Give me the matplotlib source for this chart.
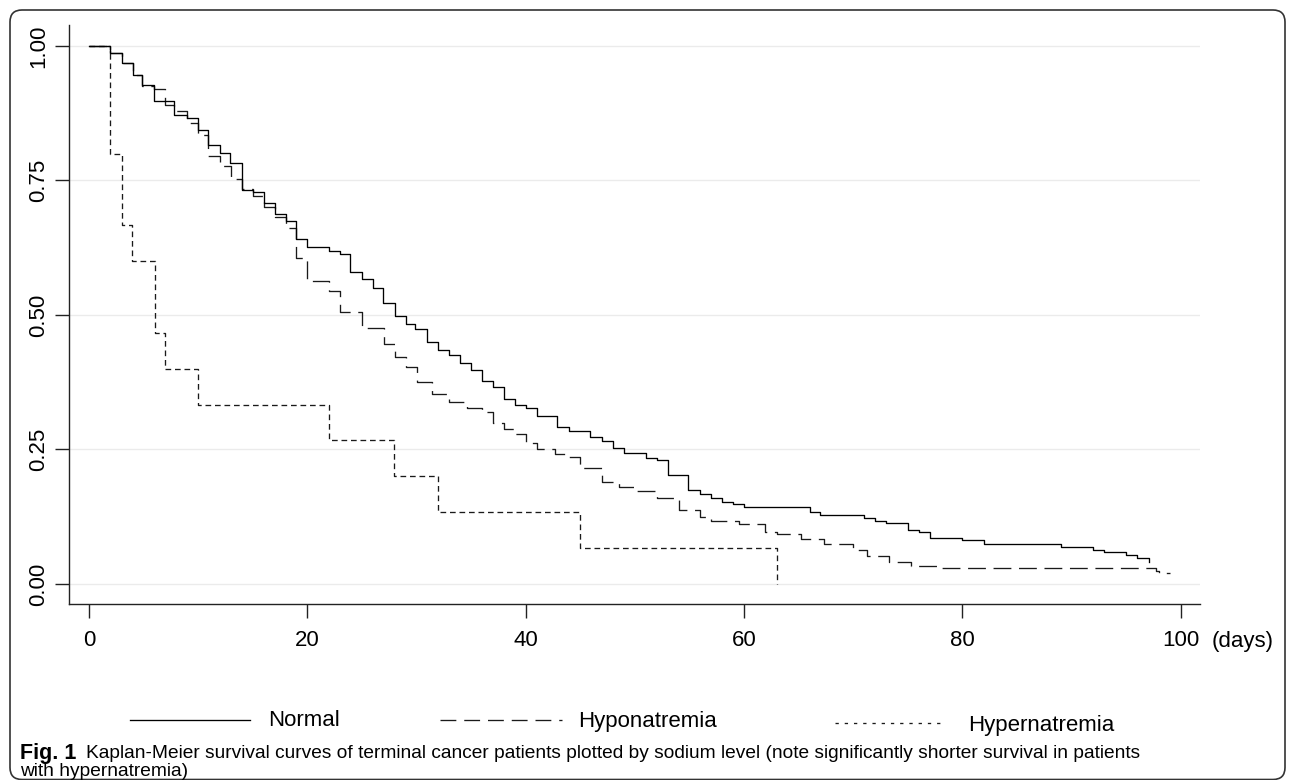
import matplotlib
matplotlib.use("Agg")
import matplotlib.pyplot as plt
from matplotlib.lines import Line2D
from matplotlib.patches import FancyBboxPatch
from matplotlib.transforms import IdentityTransform

plt.rcParams['font.family'] = ['Liberation Sans', 'DejaVu Sans']

# Kaplan-Meier step data (days, survival)
t_normal = [0, 1.9, 3.0, 4.0, 4.9, 6.0, 7.8, 9.0, 10.0, 10.9, 12.0, 12.9, 14.0, 15.0,
            16.0, 17.0, 18.0, 19.0, 20.0, 22.0, 23.0, 23.9, 25.0, 26.0, 26.9, 28.0,
            29.0, 29.9, 31.0, 32.0, 33.0, 34.0, 35.0, 36.0, 37.0, 38.0, 39.0, 40.0,
            41.0, 42.9, 44.0, 45.9, 47.0, 48.0, 49.0, 51.0, 52.0, 53.0, 54.9, 56.0,
            57.0, 58.0, 59.0, 60.0, 66.0, 67.0, 71.0, 72.0, 73.0, 75.0, 76.0, 77.0,
            80.0, 82.0, 89.0, 92.0, 93.0, 95.0, 96.0, 97.1]
s_normal = [1.0, 0.987, 0.969, 0.946, 0.928, 0.898, 0.872, 0.867, 0.844, 0.816, 0.802,
            0.783, 0.732, 0.728, 0.708, 0.688, 0.675, 0.642, 0.627, 0.619, 0.613, 0.580,
            0.567, 0.551, 0.522, 0.499, 0.483, 0.474, 0.450, 0.435, 0.426, 0.410, 0.398,
            0.378, 0.367, 0.343, 0.333, 0.328, 0.313, 0.292, 0.284, 0.274, 0.266, 0.252,
            0.243, 0.234, 0.230, 0.203, 0.175, 0.167, 0.159, 0.153, 0.149, 0.144, 0.133,
            0.129, 0.122, 0.118, 0.113, 0.100, 0.096, 0.085, 0.081, 0.074, 0.069, 0.063,
            0.059, 0.053, 0.048, 0.041]

t_hypo = [0, 1.9, 3.0, 4.0, 4.9, 6.0, 7.0, 7.8, 9.0, 10.0, 10.9, 12.0, 13.0, 14.0,
          15.0, 16.0, 17.0, 18.0, 19.0, 20.0, 22.0, 23.0, 25.0, 27.0, 28.0, 29.0, 30.0,
          31.4, 33.0, 34.6, 36.0, 37.0, 38.0, 39.0, 40.0, 41.0, 42.7, 43.9, 45.0, 47.0,
          48.5, 50.0, 52.0, 54.0, 56.0, 57.0, 59.5, 61.9, 63.0, 65.2, 67.3, 70.0, 71.3,
          73.3, 75.3, 77.7, 97.7, 98.0, 99.0]
s_hypo = [1.0, 0.987, 0.969, 0.946, 0.926, 0.920, 0.890, 0.880, 0.857, 0.835, 0.795,
          0.777, 0.752, 0.735, 0.722, 0.700, 0.683, 0.661, 0.605, 0.564, 0.545, 0.506,
          0.475, 0.446, 0.421, 0.403, 0.376, 0.354, 0.339, 0.327, 0.320, 0.300, 0.288,
          0.279, 0.262, 0.251, 0.242, 0.236, 0.215, 0.190, 0.180, 0.172, 0.159, 0.138,
          0.125, 0.118, 0.111, 0.096, 0.092, 0.083, 0.074, 0.063, 0.052, 0.040, 0.033,
          0.029, 0.025, 0.020, 0.020]

t_hyper = [0, 1.9, 3.0, 3.94, 6.05, 6.97, 9.96, 22.0, 27.96, 32.0, 45.0, 63.06]
s_hyper = [1.0, 0.80, 0.667, 0.60, 0.467, 0.40, 0.333, 0.267, 0.20, 0.133, 0.067, 0.0]

xticks = [0, 20, 40, 60, 80, 100]
yticks = [0, 0.25, 0.5, 0.75, 1.0]
ytick_labels = ['0.00', '0.25', '0.50', '0.75', '1.00']
groups = ['Normal', 'Hyponatremia', 'Hypernatremia']

W, H = 1295, 780
fig = plt.figure(figsize=(W / 100, H / 100), dpi=100)
ax = fig.add_axes([69 / W, 1 - 604 / H, (1200 - 69) / W, (604 - 25) / H])

solid = dict(color='black', lw=0.95)
dash_long = dict(color='#1a1a1a', lw=0.95, dashes=(13.5, 5.8))
dash_short = dict(color='#1a1a1a', lw=0.95, dashes=(4.3, 2.9))

ax.step(t_hyper, s_hyper, where='post', **dash_short)
ax.step(t_hypo, s_hypo, where='post', **dash_long)
ax.step(t_normal, s_normal, where='post', **solid)

ax.set_xlim(-1.83, 101.76)
ax.set_ylim(-0.0372, 1.039)
ax.set_xticks(xticks)
ax.set_yticks(yticks)
ax.set_yticklabels(ytick_labels, rotation=90, va='center')
ax.tick_params(axis='both', labelsize=16, length=10, width=1.0, color='#222222')
ax.tick_params(axis='x', pad=9)
ax.tick_params(axis='y', pad=4)
ax.yaxis.grid(True, color='#ebebeb', lw=1.0)
ax.set_axisbelow(True)
for side in ['top', 'right']:
    ax.spines[side].set_visible(False)
for side in ['left', 'bottom']:
    ax.spines[side].set_linewidth(1.0)
    ax.spines[side].set_color('#222222')

fig.text(1243 / W, 1 - 641 / H, '(days)', ha='center', va='center', fontsize=16)

# legend drawn by hand below the plot
def fx(px):
    return px / W

def fy(py):
    return 1 - py / H

fig.add_artist(Line2D([fx(130), fx(250)], [fy(720), fy(720)], **solid))
fig.text(fx(268), fy(721), groups[0], ha='left', va='center', fontsize=16)
fig.add_artist(Line2D([fx(440), fx(562)], [fy(720), fy(720)], color='#1a1a1a', lw=0.95, dashes=(12, 6)))
fig.text(fx(578), fy(721), groups[1], ha='left', va='center', fontsize=16)
fig.add_artist(Line2D([fx(835), fx(945)], [fy(723), fy(723)], color='#1a1a1a', lw=0.95, dashes=(2.5, 4.5)))
fig.text(fx(968), fy(725), groups[2], ha='left', va='center', fontsize=16)

# caption
fig.text(fx(20), fy(753), 'Fig. 1', ha='left', va='center', fontsize=15.5, fontweight='bold')
fig.text(fx(86), fy(753), 'Kaplan-Meier survival curves of terminal cancer patients plotted by sodium level '
         '(note significantly shorter survival in patients', ha='left', va='center', fontsize=13.8)
fig.text(fx(20), fy(772), 'with hypernatremia)', ha='left', va='center', fontsize=13.8)

# rounded frame around the whole figure
frame = FancyBboxPatch((10, 0.5), 1275, 769.5, boxstyle='round,pad=0,rounding_size=12',
                       transform=IdentityTransform(), fill=False, ec='#333333', lw=1.2)
fig.add_artist(frame)

fig.savefig('out.png', dpi=100)
